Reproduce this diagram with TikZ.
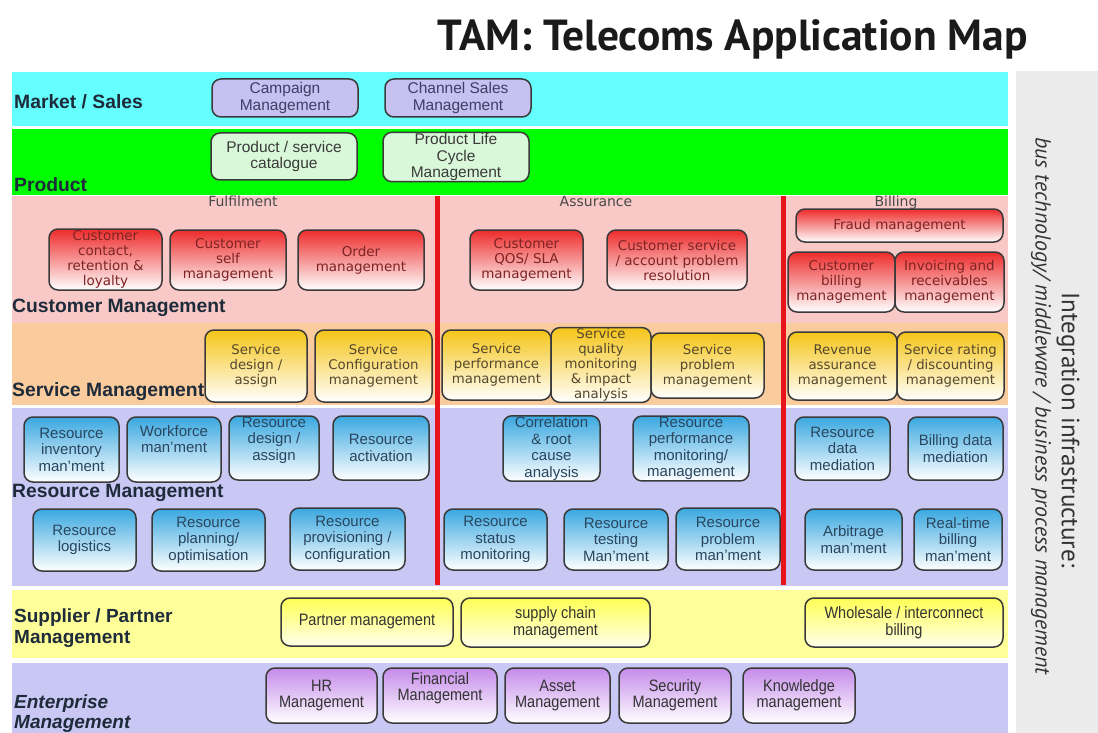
\documentclass[tikz,border=0pt]{standalone}
\usepackage{fontspec}
\setmainfont{Liberation Sans}
\newfontfamily\dvfont{DejaVu Sans}
\newfontfamily\narrowfont[FakeStretch=0.88]{Liberation Sans}
\newfontfamily\ptfont{PT Sans}

\definecolor{cyanband}{HTML}{66FFFF}
\definecolor{greenband}{HTML}{00FF00}
\definecolor{pinkband}{HTML}{F8C9C7}
\definecolor{orangeband}{HTML}{FACB9C}
\definecolor{lavband}{HTML}{C9C7F4}
\definecolor{yellowband}{HTML}{FFFF99}
\definecolor{panelgray}{HTML}{EBEBEB}
\definecolor{divider}{HTML}{E8141B}
\definecolor{boxline}{HTML}{3A3A3A}
\definecolor{mktfill}{HTML}{C6C1F0}
\definecolor{mkttext}{HTML}{3E3E66}
\definecolor{prdfill}{HTML}{D9F7D9}
\definecolor{prdtext}{HTML}{3A3A3A}
\definecolor{redtop}{HTML}{EE2B2B}
\definecolor{redtext}{HTML}{7E2424}
\definecolor{goldtop}{HTML}{F5C518}
\definecolor{svctext}{HTML}{55472E}
\definecolor{bluetop}{HTML}{3AA8E0}
\definecolor{bluetext}{HTML}{2A465F}
\definecolor{yeltop}{HTML}{FFFF55}
\definecolor{purtop}{HTML}{C58BEA}
\definecolor{darktext}{HTML}{333333}
\definecolor{labeltext}{HTML}{1E2B3A}
\definecolor{headtext}{HTML}{4A4A4A}
\definecolor{titlecol}{HTML}{1A1A1A}

\tikzset{
  app/.style={draw=boxline, line width=1.5pt, rounded corners=9pt, align=center, inner sep=1pt},
  mkt/.style={app, fill=mktfill, text=mkttext, font=\fontsize{15.5}{16.5}\selectfont},
  prd/.style={app, fill=prdfill, text=prdtext, font=\fontsize{15.5}{16.5}\selectfont},
  cus/.style={app, top color=redtop, bottom color=white, text=redtext, font=\dvfont\fontsize{13.5}{15}\selectfont},
  svc/.style={app, top color=goldtop, bottom color=white, text=svctext, font=\dvfont\fontsize{13.3}{15}\selectfont},
  res/.style={app, top color=bluetop, bottom color=white, text=bluetext, font=\fontsize{15}{16.5}\selectfont},
  sup/.style={app, top color=yeltop, bottom color=white!92!yellow, text=darktext, font=\narrowfont\fontsize{16.5}{16.5}\selectfont},
  ent/.style={app, top color=purtop, bottom color=white, text=darktext, font=\narrowfont\fontsize{16.5}{16}\selectfont},
  layerlabel/.style={anchor=base west, inner sep=0pt, text=labeltext, font=\bfseries\fontsize{19.3}{21}\selectfont},
  colhead/.style={anchor=base, inner sep=0pt, text=headtext, font=\dvfont\fontsize{14}{14}\selectfont},
  divline/.style={draw=divider, line width=5pt},
}

% style, name, x1, y1, x2, y2, text
\newcommand\appbox[7]{%
  \pgfmathsetmacro\bxw{#5-#3}%
  \pgfmathsetmacro\bxh{#6-#4}%
  \node[#1, minimum width=\bxw pt, minimum height=\bxh pt] (#2) at ({(#3+#5)/2},{(#4+#6)/2}) {#7};%
}

\begin{document}
\begin{tikzpicture}[x=1pt, y=-1pt]
\useasboundingbox (0,0) rectangle (1098,733);
\fill[white] (0,0) rectangle (1098,733);

% title
\node[anchor=base east, inner sep=0pt, text=titlecol, font=\ptfont\bfseries\fontsize{43.5}{43.5}\selectfont] (title) at (1028,51) {TAM: Telecoms Application Map};

% layer bands
\fill[cyanband]   (12,72)  rectangle (1008,126);
\fill[greenband]  (12,129) rectangle (1008,195);
\fill[pinkband]   (12,196) rectangle (1008,323);
\fill[orangeband] (12,323) rectangle (1008,405);
\fill[lavband]    (12,408) rectangle (1008,586);
\fill[yellowband] (12,590) rectangle (1008,658);
\fill[lavband]    (12,663) rectangle (1008,740);

% integration panel
\fill[panelgray] (1016,71) rectangle (1098,740);
\node[rotate=-90, inner sep=0pt, text=darktext, font=\ptfont\fontsize{25}{25}\selectfont] (integ) at (1068,430) {Integration infrastructure:};
\node[rotate=-90, inner sep=0pt, text=darktext, font=\ptfont\itshape\fontsize{21.8}{21.8}\selectfont] (bus) at (1041,406) {bus technology/ middleware / business process management};

% column dividers
\coordinate (d1top) at (437,196);
\coordinate (d1bot) at (437,585);
\coordinate (d2top) at (783,196);
\coordinate (d2bot) at (783,585);
\draw[divline] (d1top) -- (d1bot);
\draw[divline] (d2top) -- (d2bot);

% layer labels
\node[layerlabel] (lmkt) at (14,109) {Market / Sales};
\node[layerlabel] (lprd) at (14,192) {Product};
\node[layerlabel] (lcus) at (12,312) {Customer Management};
\node[layerlabel] (lsvc) at (12,396) {Service Management};
\node[layerlabel] (lres) at (12,497) {Resource Management};
\node[layerlabel, align=left, font=\bfseries\fontsize{19}{21}\selectfont] (lsup) at (14,643) {Supplier / Partner\\Management};
\node[layerlabel, align=left, font=\bfseries\itshape\fontsize{19}{20}\selectfont] (lent) at (14,728) {Enterprise\\Management};

% column headings
\node[colhead] (hful) at (243,206) {Fulfilment};
\node[colhead] (hass) at (596,206) {Assurance};
\node[colhead] (hbil) at (896,206) {Billing};

% market / sales
\appbox{mkt}{campaign}{212}{79}{358}{117}{Campaign\\Management}
\appbox{mkt}{channel}{385}{79}{531}{117}{Channel Sales\\Management}

% product
\appbox{prd}{catalogue}{211}{133}{357}{180}{Product / service\\catalogue}
\appbox{prd}{plc}{383}{133}{529}{181}{Product Life\\Cycle\\Management}

% customer management
\appbox{cus}{contact}{49}{229}{162}{290}{Customer\\contact,\\retention \&\\loyalty}
\appbox{cus}{selfm}{170}{230}{286}{290}{Customer\\self\\management}
\appbox{cus}{order}{298}{230}{424}{290}{Order\\management}
\appbox{cus}{qos}{470}{230}{583}{290}{Customer\\QOS/ SLA\\management}
\appbox{cus}{csr}{607}{230}{747}{290}{Customer service\\/ account problem\\resolution}
\appbox{cus}{fraud}{796}{209}{1003}{242}{Fraud management}
\appbox{cus}{cbill}{788}{252}{895}{312}{Customer\\billing\\management}
\appbox{cus}{invoice}{895}{252}{1004}{312}{Invoicing and\\receivables\\management}

% service management
\appbox{svc}{sdesign}{205}{330}{307}{402}{Service\\design /\\assign}
\appbox{svc}{sconfig}{315}{330}{432}{402}{Service\\Configuration\\management}
\appbox{svc}{sperf}{442}{330}{551}{400}{Service\\performance\\management}
\appbox{svc}{squal}{551}{330}{651}{400}{Service\\quality\\monitoring\\\& impact\\analysis}
\appbox{svc}{sprob}{651}{333}{764}{398}{Service\\problem\\management}
\appbox{svc}{revass}{788}{332}{897}{400}{Revenue\\assurance\\management}
\appbox{svc}{rating}{897}{332}{1004}{400}{Service rating\\/ discounting\\management}

% resource management, upper row
\appbox{res}{inv}{24}{417}{119}{482}{Resource\\inventory\\man’ment}
\appbox{res}{workforce}{127}{417}{221}{482}{Workforce\\man’ment\\[4pt]}
\appbox{res}{rdesign}{229}{416}{319}{480}{Resource\\design /\\assign\\[2pt]}
\appbox{res}{ractiv}{333}{416}{429}{480}{Resource\\activation}
\appbox{res}{corr}{503}{417}{600}{480}{Correlation\\\& root\\cause\\analysis}
\appbox{res}{rperf}{633}{417}{749}{480}{Resource\\performance\\monitoring/\\management}
\appbox{res}{rdata}{795}{417}{890}{480}{Resource\\data\\mediation}
\appbox{res}{bdata}{908}{417}{1003}{480}{Billing data\\mediation}

% resource management, lower row
\appbox{res}{logis}{33}{509}{136}{571}{Resource\\logistics}
\appbox{res}{rplan}{152}{509}{265}{571}{Resource\\planning/\\optimisation}
\appbox{res}{rprov}{290}{508}{405}{570}{Resource\\provisioning /\\configuration}
\appbox{res}{rstatus}{444}{509}{547}{570}{Resource\\status\\monitoring}
\appbox{res}{rtest}{564}{509}{668}{570}{Resource\\testing\\Man’ment}
\appbox{res}{rprob}{676}{508}{780}{570}{Resource\\problem\\man’ment}
\appbox{res}{arb}{805}{509}{902}{570}{Arbitrage\\man’ment}
\appbox{res}{rtbill}{914}{509}{1002}{570}{Real-time\\billing\\man’ment}

% supplier / partner
\appbox{sup}{partner}{281}{598}{453}{646}{Partner management}
\appbox{sup}{supply}{461}{598}{650}{647}{supply chain\\management}
\appbox{sup}{wholesale}{805}{598}{1003}{647}{Wholesale / interconnect\\billing}

% enterprise
\appbox{ent}{hr}{266}{668}{377}{723}{HR\\Management}
\appbox{ent}{fin}{383}{668}{497}{723}{Financial\\Management\\[2pt]}
\appbox{ent}{asset}{505}{668}{610}{723}{Asset\\Management}
\appbox{ent}{security}{619}{668}{731}{723}{Security\\Management}
\appbox{ent}{knowledge}{743}{668}{855}{723}{Knowledge\\management}
\end{tikzpicture}
\end{document}
